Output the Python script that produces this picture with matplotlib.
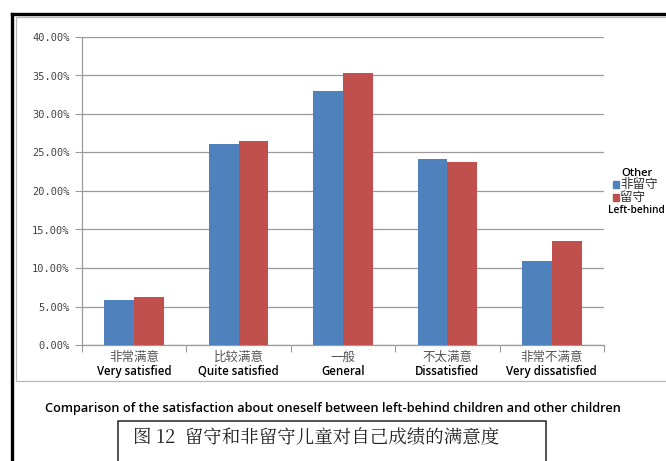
import matplotlib.pyplot as plt
import numpy as np
from matplotlib.lines import Line2D
from matplotlib.patches import Rectangle

cats_cn = ['非常满意', '比较满意', '一般', '不太满意', '非常不满意']
cats_en = ['Very satisfied', 'Quite satisfied', 'General', 'Dissatisfied', 'Very dissatisfied']
other = [5.8, 26.1, 33.0, 24.2, 10.9]
left_behind = [6.2, 26.5, 35.3, 23.8, 13.5]
yticks = [0, 5, 10, 15, 20, 25, 30, 35, 40]

blue = '#4F81BD'
red = '#C0504D'
W, H = 666, 461

fig = plt.figure(figsize=(6.66, 4.61), dpi=100)


def fx(px):
    return px / W


def fy(py):
    return 1 - py / H


# outer black frame (left and top)
fig.add_artist(Line2D([fx(11.5), fx(11.5)], [fy(14.5), 0], color='black', lw=2.4))
fig.add_artist(Line2D([fx(11.5), 1], [fy(14.5), fy(14.5)], color='black', lw=2.4))
# inner chart box
fig.add_artist(Rectangle((fx(16), fy(381)), 1, fy(17) - fy(381), fill=False,
                         edgecolor='#b8b8b8', lw=0.9))

ax = fig.add_axes([fx(82), fy(345), fx(604) - fx(82), fy(37) - fy(345)])
x = np.arange(len(cats_cn))
w = 0.285
ax.bar(x - w / 2, other, w, color=blue, zorder=3)
ax.bar(x + w / 2, left_behind, w, color=red, zorder=3)

ax.set_xlim(-0.5, 4.5)
ax.set_ylim(0, 40)
ax.set_yticks(yticks)
ax.set_yticklabels(['%.2f%%' % v for v in yticks], family='DejaVu Sans Mono',
                   fontsize=7.5, color='#444444')
ax.yaxis.grid(True, color='#9a9a9a', lw=0.9, zorder=0)
ax.set_xticks(np.arange(-0.5, 5, 1))
ax.set_xticklabels([])
ax.tick_params(axis='y', length=5, color='#9a9a9a', pad=4)
ax.tick_params(axis='x', length=5, color='#9a9a9a')
for s in ['top', 'right']:
    ax.spines[s].set_visible(False)
for s in ['left', 'bottom']:
    ax.spines[s].set_color('#9a9a9a')
    ax.spines[s].set_linewidth(0.9)

for i in range(len(cats_cn)):
    ax.text(i, -1.6, cats_cn[i], ha='center', va='center', fontsize=9,
            family='Noto Sans CJK SC', color='#555555',
            transform=ax.transData, clip_on=False)
    ax.text(i, -3.4, cats_en[i], ha='center', va='center', fontsize=8.3,
            family='Open Sans', fontweight='semibold', color='black',
            transform=ax.transData, clip_on=False)

# legend
fig.text(fx(621), fy(173), 'Other', fontsize=8, family='Open Sans',
         fontweight='semibold', va='center', ha='left')
fig.add_artist(Rectangle((fx(613), fy(188)), fx(6), fy(181) - fy(188), color=blue))
fig.text(fx(620), fy(184), '非留守', fontsize=9, family='Noto Sans CJK SC',
         va='center', ha='left', color='#333333')
fig.add_artist(Rectangle((fx(613), fy(201)), fx(6), fy(194) - fy(201), color=red))
fig.text(fx(620), fy(198), '留守', fontsize=9, family='Noto Sans CJK SC',
         va='center', ha='left', color='#333333')
fig.text(fx(608), fy(210), 'Left-behind', fontsize=7.3, family='Open Sans',
         fontweight='semibold', va='center', ha='left')

# captions
fig.text(fx(333), fy(408), 'Comparison of the satisfaction about oneself between left-behind children and other children',
         fontsize=9.2, family='Open Sans', fontweight='semibold', ha='center', va='center')
fig.add_artist(Line2D([fx(118.5), fx(118.5), fx(545.5), fx(545.5)],
                      [0, fy(420.5), fy(420.5), 0], color='#333333', lw=1.2))
fig.text(fx(133), fy(438), '图 12  留守和非留守儿童对自己成绩的满意度', fontsize=13.3,
         family='Noto Serif CJK SC', ha='left', va='center', color='#222222')

fig.savefig('out.png', dpi=100)
